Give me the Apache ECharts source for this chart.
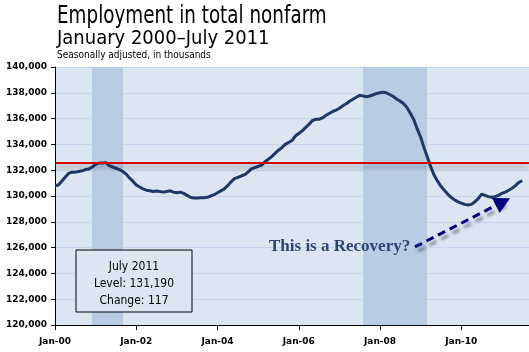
<!DOCTYPE html>
<html>
<head>
<meta charset="utf-8">
<script src="https://cdn.jsdelivr.net/npm/echarts@6/dist/echarts.min.js"></script>
<style>
  html, body { margin: 0; padding: 0; background: #fff; }
  #chart { width: 529px; height: 352px; }
</style>
</head>
<body>
<div id="chart"></div>
<script>
// monthly employment, Jan 2000 .. Jul 2011 (thousands)
var values = [
  // 2000
  130800, 130850, 131150, 131450, 131750, 131850, 131850, 131900, 131950, 132050, 132100, 132250,
  // 2001
  132450, 132550, 132550, 132600, 132350, 132250, 132150, 132050, 131900, 131700, 131400, 131150,
  // 2002
  130850, 130700, 130550, 130450, 130400, 130350, 130380, 130350, 130300, 130350, 130400, 130300,
  // 2003
  130250, 130300, 130200, 130050, 129900, 129850, 129850, 129870, 129860, 129900, 130000, 130100,
  // 2004
  130250, 130400, 130550, 130800, 131100, 131350, 131450, 131550, 131650, 131850, 132100, 132200,
  // 2005
  132300, 132400, 132650, 132850, 133050, 133300, 133550, 133750, 134000, 134150, 134300, 134650,
  // 2006
  134850, 135050, 135300, 135550, 135850, 135950, 135950, 136050, 136250, 136400, 136550, 136650,
  // 2007
  136800, 137000, 137150, 137350, 137500, 137650, 137800, 137750, 137700, 137750, 137850, 137950,
  // 2008
  138000, 138050, 137980, 137850, 137700, 137500, 137350, 137150, 136850, 136400, 135900, 135200,
  // 2009
  134550, 133750, 133000, 132250, 131600, 131150, 130750, 130450, 130150, 129900, 129700, 129550,
  // 2010
  129450, 129350, 129300, 129350, 129550, 129800, 130150, 130050, 129950, 129900, 129950, 130050,
  // 2011
  130200, 130300, 130450, 130600, 130800, 131050, 131190
];
var tickLabels = ["Jan-00", "Jan-02", "Jan-04", "Jan-06", "Jan-08", "Jan-10"];
var recessions = [[10.9, 20.1], [91.0, 109.9]];  // month index ranges
var referenceLevel = 132600;
var arrowFrom = [106.3, 126050];
var arrowTo = [132.3, 129550];
var boxLines = ["July 2011", "Level: 131,190", "Change: 117"];

var chart = echarts.init(document.getElementById("chart"));

var option = {
  animation: false,
  backgroundColor: "#fff",
  grid: { left: 55, right: 0, top: 67, bottom: 27, show: true, backgroundColor: "#dce6f2", borderWidth: 0 },
  xAxis: {
    type: "value", min: 0, max: 140, interval: 24,
    axisLine: { lineStyle: { color: "#000", width: 1 } },
    axisTick: { show: true, length: 5, lineStyle: { color: "#000" } },
    axisLabel: {
      showMaxLabel: false, margin: 12,
      fontFamily: "DejaVu Sans", fontWeight: "bold", fontSize: 9, color: "#000",
      formatter: function (v) { return v % 24 === 0 ? tickLabels[v / 24] : ""; }
    },
    splitLine: { show: false }
  },
  yAxis: {
    type: "value", min: 120000, max: 140000, interval: 2000,
    axisLine: { show: true, lineStyle: { color: "#000", width: 1 } },
    axisTick: { show: true, length: 4, lineStyle: { color: "#000" } },
    axisLabel: {
      margin: 8, fontFamily: "DejaVu Sans", fontWeight: "bold", fontSize: 9, color: "#000",
      formatter: function (v) { return v.toLocaleString("en-US"); }
    },
    splitLine: { lineStyle: { color: "#c3d6ee", width: 1 } }
  },
  series: [
    {
      type: "line",
      data: values.map(function (v, i) { return [i, v]; }),
      showSymbol: false,
      lineStyle: { color: "#1f3864", width: 3 },
      z: 3,
      markArea: {
        silent: true,
        itemStyle: { color: "#b8cce4" },
        data: recessions.map(function (r) { return [{ xAxis: r[0] }, { xAxis: r[1] }]; })
      },
      markLine: {
        silent: true, symbol: "none", label: { show: false },
        lineStyle: { color: "#d40000", width: 2, type: "solid",
          shadowColor: "rgba(0,0,0,0.35)", shadowBlur: 4, shadowOffsetY: 4 },
        data: [{ yAxis: referenceLevel }]
      }
    },
    {
      type: "line",
      data: [],
      markLine: {
        silent: true, label: { show: false },
        symbol: ["none", "triangle"], symbolSize: [17, 16],
        lineStyle: { color: "#000080", width: 3, type: [8, 5],
          shadowColor: "rgba(0,0,0,0.4)", shadowBlur: 3, shadowOffsetX: 3, shadowOffsetY: 4 },
        itemStyle: { color: "#000080" },
        data: [[{ coord: arrowFrom }, { coord: arrowTo }]]
      }
    }
  ],
  graphic: [
    { type: "text", x: 57, y: 5, scaleX: 0.85, z: 100,
      style: { text: "Employment in total nonfarm", fill: "#000",
        font: "24px 'DejaVu Sans Condensed'" } },
    { type: "text", x: 57, y: 29, z: 100,
      style: { text: "January 2000\u2013July 2011", fill: "#000",
        font: "20px 'DejaVu Sans Condensed'" } },
    { type: "text", x: 57, y: 50, z: 100,
      style: { text: "Seasonally adjusted, in thousands", fill: "#000",
        font: "10px 'DejaVu Sans Condensed'" } },
    {
      type: "text", x: 269, y: 238, z: 100,
      style: { text: "This is a Recovery?", fill: "#2b4470",
        font: "bold 17px 'Liberation Serif', 'Times New Roman', serif",
        shadowColor: "rgba(0,0,0,0.25)", shadowBlur: 2, shadowOffsetX: 1, shadowOffsetY: 1 }
    },
    { type: "rect", z: 100, shape: { x: 76, y: 250, width: 116, height: 62 },
      style: { fill: "#dce6f2", stroke: "#000", lineWidth: 1 } },
    { type: "text", z: 101, x: 134, y: 258,
      style: { text: boxLines.join("\n"), align: "center",
        lineHeight: 17, font: "12px 'DejaVu Sans Condensed'", fill: "#000" } }
  ]
};

chart.setOption(option);
</script>
</body>
</html>
